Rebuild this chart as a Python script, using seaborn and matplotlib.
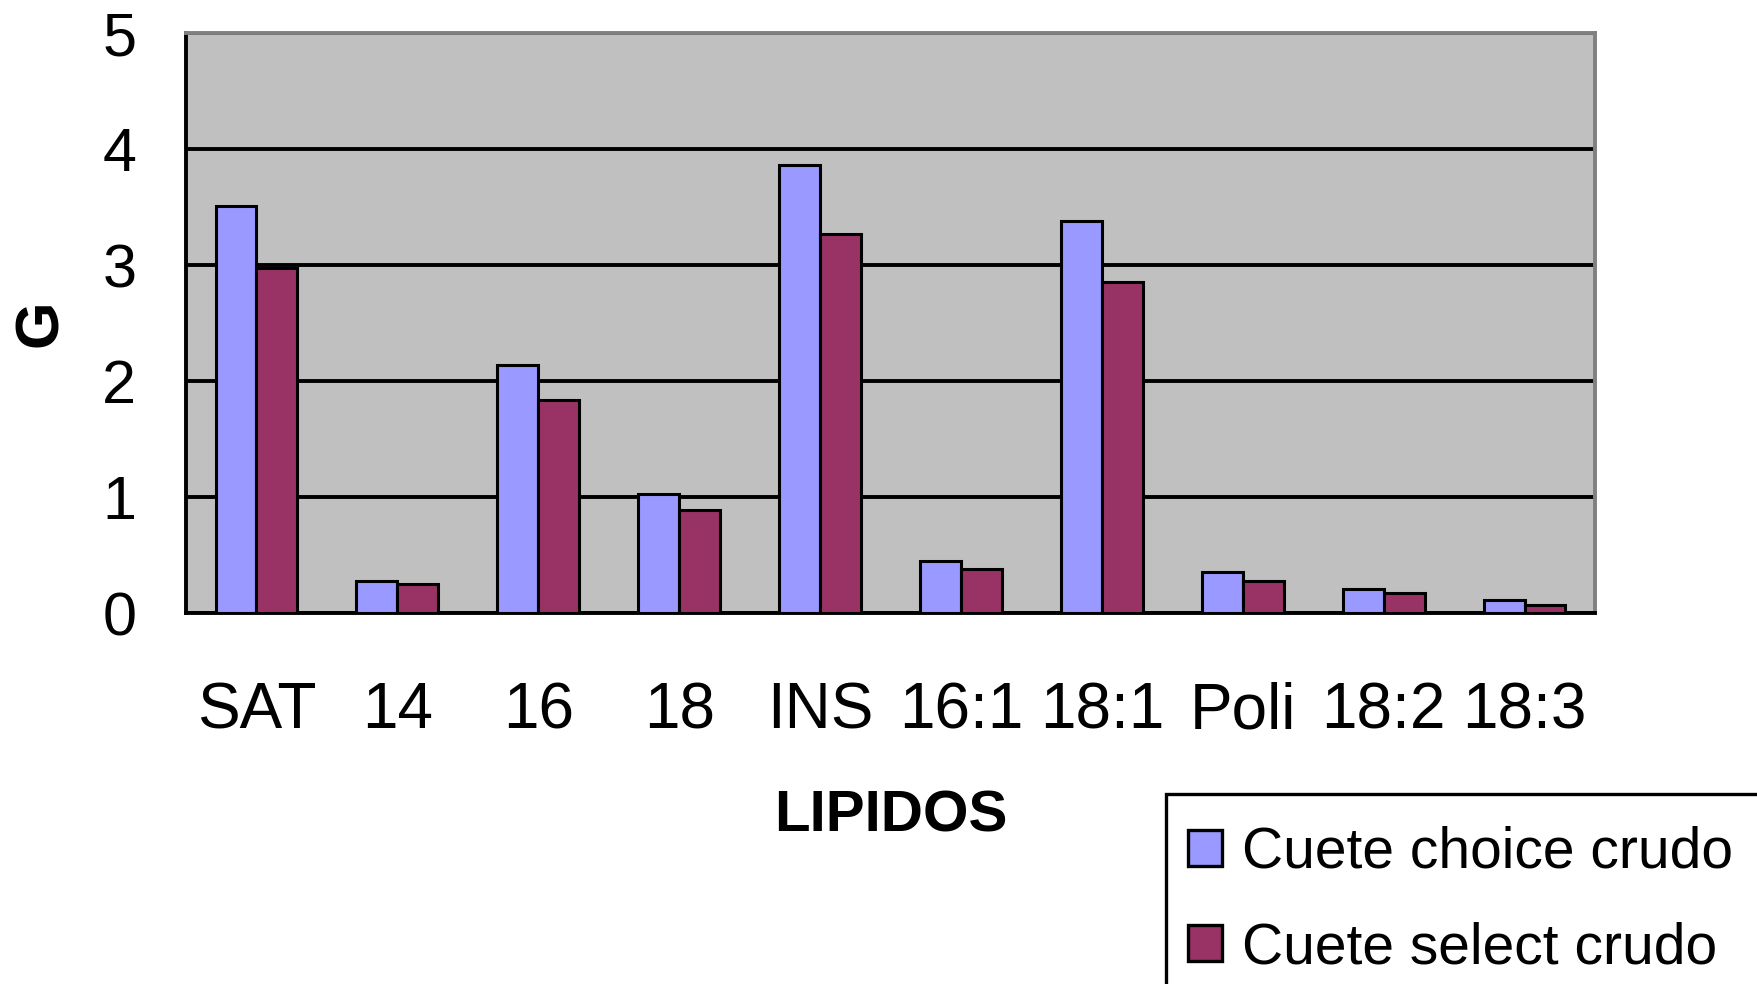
import matplotlib
matplotlib.use("Agg")
import matplotlib.pyplot as plt
from matplotlib.patches import Rectangle
from matplotlib.ticker import FixedLocator
import seaborn as sns
import pandas as pd

categorias = ["SAT", "14", "16", "18", "INS", "16:1", "18:1", "Poli", "18:2", "18:3"]
choice = [3.51, 0.28, 2.14, 1.03, 3.86, 0.45, 3.38, 0.35, 0.21, 0.11]
select = [2.97, 0.25, 1.84, 0.89, 3.27, 0.38, 2.85, 0.28, 0.17, 0.07]
series = ["Cuete choice crudo", "Cuete select crudo"]
colores = ["#9999FF", "#993366"]
yticks = [0, 1, 2, 3, 4, 5]

df = pd.DataFrame({
    "lipido": categorias * 2,
    "valor": choice + select,
    "serie": [series[0]] * len(categorias) + [series[1]] * len(categorias),
})

sns.set_theme(style="white", rc={
    "text.color": "black", "axes.labelcolor": "black",
    "xtick.color": "black", "ytick.color": "black",
})
plt.rcParams["font.family"] = ["Liberation Sans", "DejaVu Sans"]

W, H = 1758, 984
fig = plt.figure(figsize=(W / 100, H / 100), dpi=100)
ax = fig.add_axes([186 / W, 1 - 613 / H, (1595 - 186) / W, (613 - 33) / H])
ax.set_facecolor("#C0C0C0")

sns.barplot(data=df, x="lipido", y="valor", hue="serie", order=categorias,
            hue_order=series, palette=colores, width=0.58, edgecolor="black",
            linewidth=2.2, saturation=1, ax=ax, zorder=3, legend=True)

ax.set_xlim(-0.5, len(categorias) - 0.5)
ax.set_ylim(0, 5)
ax.set_yticks(yticks)
ax.set_yticklabels([str(v) for v in yticks])
ax.yaxis.grid(True, color="black", linewidth=2.8, zorder=1)
ax.set_axisbelow(True)

# category separators as minor ticks on the x axis
ax.xaxis.set_minor_locator(FixedLocator([i - 0.5 for i in range(len(categorias) + 1)]))
ax.tick_params(axis="x", which="major", length=0, labelsize=46, pad=49)
ax.tick_params(axis="x", which="minor", length=14.5, width=2.2, color="black", direction="out")
ax.tick_params(axis="y", which="major", length=13.7, width=2.8, color="black",
               direction="out", labelsize=44, pad=22)

for side in ["left", "bottom"]:
    ax.spines[side].set_color("black")
    ax.spines[side].set_linewidth(2.8)
for side in ["top", "right"]:
    ax.spines[side].set_color("#808080")
    ax.spines[side].set_linewidth(2.8)

ax.set_xlabel("LIPIDOS", fontsize=42, fontweight="bold", labelpad=35)
ax.set_ylabel("G", fontsize=44, fontweight="bold")
ax.yaxis.set_label_coords(-0.082, 0.5)

# legend box, running off the lower right corner of the figure
fig.add_artist(Rectangle((1166 / W, -0.2), 0.5, 1 - 794 / H + 0.2,
                         transform=fig.transFigure, facecolor="white",
                         edgecolor="black", linewidth=2.4, zorder=4))

ax.get_legend().remove()
handles, labels = ax.get_legend_handles_labels()
leg = fig.legend(handles[:2], labels[:2], loc="upper left",
                 bbox_to_anchor=(1188 / W, 1 - 826 / H), fontsize=41,
                 frameon=False, handlelength=0.6, handleheight=0.6,
                 handletextpad=0.35, labelspacing=0.72, borderpad=0,
                 borderaxespad=0)
leg.set_zorder(5)
for h in leg.legend_handles:
    h.set_linewidth(2.4)

fig.savefig("out.png", dpi=100, facecolor="white")
